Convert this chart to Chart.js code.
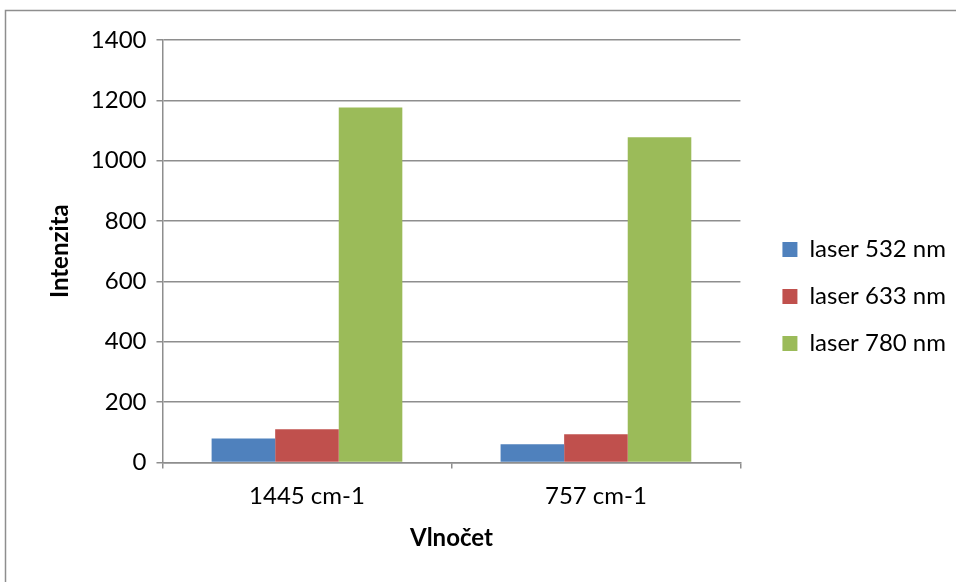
<!DOCTYPE html>
<html>
<head>
<meta charset="utf-8">
<script src="https://cdn.jsdelivr.net/npm/chart.js@4/dist/chart.umd.min.js"></script>
<style>
  html, body { margin: 0; padding: 0; background: #fff; }
  #wrap { position: relative; width: 956px; height: 582px; }
</style>
</head>
<body>
<div id="wrap"><canvas id="graf" width="956" height="582"></canvas></div>
<script>
// data
const kategorie = ['1445 cm-1', '757 cm-1'];
const laser532 = [79, 60];
const laser633 = [110, 93];
const laser780 = [1176, 1078];
const osaY = [0, 200, 400, 600, 800, 1000, 1200, 1400];

const pismo = 'Lato, "Open Sans", sans-serif';
const seda = '#8e8e8e';

// rámeček kolem celého grafu (vpravo a dole oříznutý)
const ramecek = {
    id: 'ramecek',
    beforeDraw(chart) {
        const ctx = chart.ctx;
        ctx.save();
        ctx.strokeStyle = seda;
        ctx.lineWidth = 1.5;
        ctx.strokeRect(5.5, 10.5, 1200, 1200);
        ctx.restore();
    }
};

// posun legendy kousek doprava od grafu
const posunLegendy = {
    id: 'posunLegendy',
    afterLayout(chart) {
        chart.legend.left += 19;
        chart.legend.right += 19;
    }
};

Chart.defaults.font.family = pismo;
Chart.defaults.color = '#000';

const ctx = document.getElementById('graf').getContext('2d');
new Chart(ctx, {
    type: 'bar',
    data: {
        labels: kategorie,
        datasets: [
            { label: 'laser 532 nm', data: laser532, backgroundColor: '#4F81BD' },
            { label: 'laser 633 nm', data: laser633, backgroundColor: '#C0504D' },
            { label: 'laser 780 nm', data: laser780, backgroundColor: '#9BBB59' }
        ]
    },
    options: {
        responsive: false,
        animation: false,
        maintainAspectRatio: false,
        layout: { padding: { left: 46, top: 40, right: 19, bottom: 29 } },
        datasets: { bar: { categoryPercentage: 0.66, barPercentage: 1.0 } },
        plugins: {
            tooltip: { enabled: false },
            legend: {
                position: 'right',
                labels: {
                    boxWidth: 15,
                    boxHeight: 15,
                    padding: 23,
                    font: { size: 24 }
                }
            }
        },
        scales: {
            x: {
                grid: { offset: true, drawOnChartArea: false, tickLength: 6, color: seda, lineWidth: 1.5 },
                border: { color: seda, width: 1.5 },
                ticks: { font: { size: 24 }, padding: 13 },
                title: { display: true, text: 'Vlnočet', font: { size: 24, weight: 'bold' }, padding: { top: 1, bottom: 0 } }
            },
            y: {
                min: 0,
                max: 1400,
                afterBuildTicks(axis) { axis.ticks = osaY.map(v => ({ value: v })); },
                grid: { tickLength: 6, color: seda, lineWidth: 1.5 },
                border: { color: seda, width: 1.5 },
                ticks: { font: { size: 24 }, padding: 10, callback: v => String(v) },
                title: { display: true, text: 'Intenzita', font: { size: 24, weight: 'bold' }, padding: { top: 0, bottom: 6 } }
            }
        }
    },
    plugins: [ramecek, posunLegendy]
});
</script>
</body>
</html>
